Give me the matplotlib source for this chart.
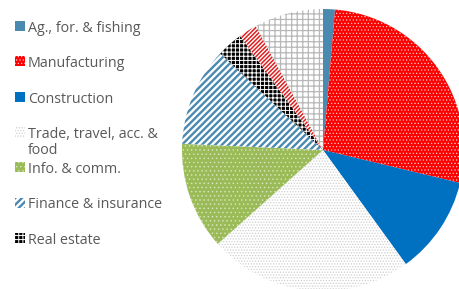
import matplotlib
matplotlib.use("Agg")
import matplotlib.pyplot as plt
import matplotlib as mpl
from matplotlib.patches import Rectangle

categories = ["Ag., for. & fishing", "Manufacturing", "Construction",
              "Trade, travel, acc. &\nfood", "Info. & comm.", "Finance & insurance",
              "Real estate", "Prof. & business services", "Other"]
values = [1.36, 27.4, 11.25, 23.4, 12.3, 11.3, 3.0, 2.1, 7.9]
legend_count = 7

faces = ["#4A89B0", "#FF0000", "#0070C0", "#FFFFFF", "#9BBB59", "#FFFFFF", "#000000", "#FFFFFF", "#FFFFFF"]
hatch_cols = ["#4A89B0", "#FFC8C8", "#0070C0", "#CFCFCF", "#D8E8BC", "#4A89B0", "#FFFFFF", "#E02020", "#B8B8B8"]
hatches = [None, ".....", None, "......", "....", "/////", "++++", "////////", "+++"]
hatch_lw = [1.0, 0.5, 1.0, 0.6, 0.5, 1.7, 0.7, 1.1, 0.9]

plt.rcParams['font.family'] = ['Open Sans', 'DejaVu Sans']

fig = plt.figure(figsize=(4.6, 2.89), dpi=100)
ax = fig.add_axes([(323 - 141) / 460, (139 - 141) / 289, 282 / 460, 282 / 289])
wedges, _ = ax.pie(values, startangle=90, counterclock=False, radius=1.0,
                   wedgeprops=dict(linewidth=0))


def style(p, fc, hc, h, lw):
    p.set_facecolor(fc)
    p.set_edgecolor(hc)
    p.set_linewidth(0)
    if h:
        p.set_hatch(h)
        if hasattr(p, "set_hatch_linewidth"):
            p.set_hatch_linewidth(lw)


for w, fc, hc, h, lw in zip(wedges, faces, hatch_cols, hatches, hatch_lw):
    style(w, fc, hc, h, lw)
ax.set_xlim(-1, 1)
ax.set_ylim(-1, 1)
ax.set_aspect('equal')
ax.axis('off')

# manual legend (first entries only, as in the original)
W, H = 460, 289
for i in range(legend_count):
    yc = 26 + 35.3 * i
    r = Rectangle((15 / W, 1 - (yc + 5) / H), 10 / W, 10 / H, transform=fig.transFigure)
    style(r, faces[i], hatch_cols[i], hatches[i], hatch_lw[i])
    fig.add_artist(r)
    fig.text(28 / W, 1 - (yc - 5) / H, categories[i], fontsize=10.3, color='#595959',
             va='top', ha='left', linespacing=1.12)

fig.savefig("out.png", dpi=100)
